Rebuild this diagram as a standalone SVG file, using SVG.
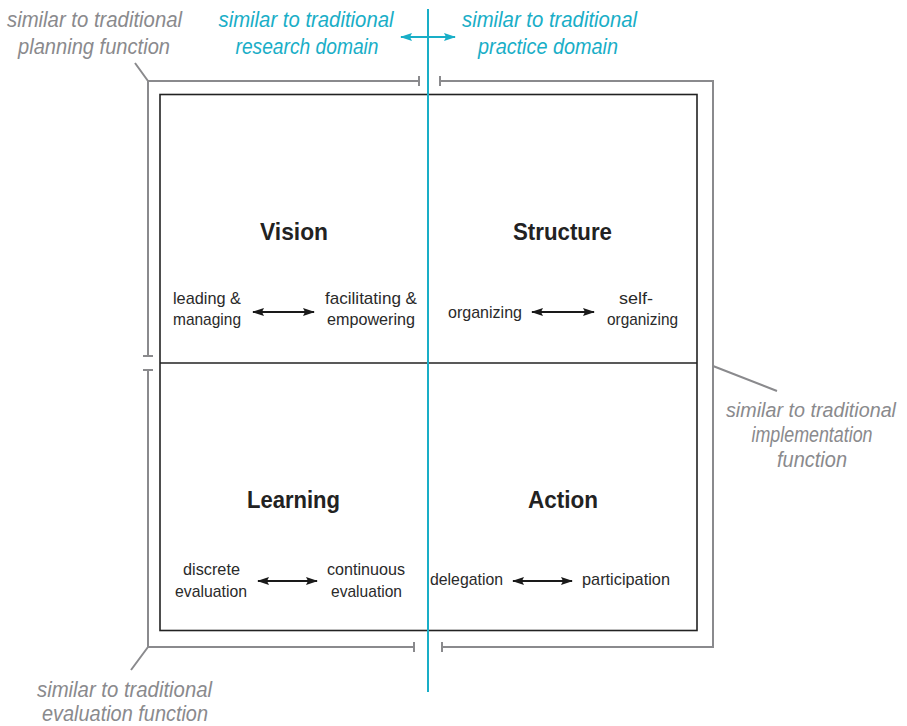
<svg xmlns="http://www.w3.org/2000/svg" width="907" height="726" viewBox="0 0 907 726">
<style>
.note{font-family:"Liberation Sans",Arial,sans-serif;font-style:italic;font-size:21.5px;fill:#8a8a8d;text-anchor:middle}
.cyan{fill:#19aec7}
.title{font-family:"Liberation Sans",Arial,sans-serif;font-weight:bold;font-size:24px;fill:#222;text-anchor:middle}
.lbl{font-family:"Liberation Sans",Arial,sans-serif;font-size:17px;fill:#2a2a2a;text-anchor:middle}
.br{fill:none;stroke:#8a8a8d;stroke-width:2}
.arr{stroke:#1a1a1a;stroke-width:2;marker-start:url(#ab);marker-end:url(#ab)}
</style>
<defs>
<marker id="ab" viewBox="0 0 12 8" refX="11" refY="4" markerWidth="12" markerHeight="8" markerUnits="userSpaceOnUse" orient="auto-start-reverse"><path d="M0,0 L12,4 L0,8 L2,4 Z" fill="#1a1a1a"/></marker>
<marker id="ac" viewBox="0 0 12 8" refX="11" refY="4" markerWidth="12" markerHeight="8" markerUnits="userSpaceOnUse" orient="auto-start-reverse"><path d="M0,0 L12,4 L0,8 L2,4 Z" fill="#19aec7"/></marker>
</defs>
<rect width="907" height="726" fill="#fff"/>
<g id="brackets">
<path class="br" d="M419,81 H148 V356 M143,356 H153 M419,76 V86"/>
<path class="br" d="M143,370 H153 M148,370 V647 H414 M414,642 V652"/>
<path class="br" d="M440,76 V86 M440,81 H713 V647 H442 M442,642 V652"/>
<path class="br" d="M148,81 L135,63 M148,647 L131,670 M713,366 L777,391" stroke-width="1.5"/>
</g>
<g id="grid">
<rect x="160" y="94.5" width="537" height="536" fill="none" stroke="#222" stroke-width="1.6"/>
<line x1="160" y1="363" x2="697" y2="363" stroke="#222" stroke-width="1.6"/>
</g>
<g id="connectors">
<line x1="428" y1="9" x2="428" y2="692" stroke="#19aec7" stroke-width="2"/>
<line x1="401" y1="37" x2="455" y2="37" stroke="#19aec7" stroke-width="2" marker-start="url(#ac)" marker-end="url(#ac)"/>
<line class="arr" x1="253" y1="312" x2="314" y2="312"/>
<line class="arr" x1="532" y1="312" x2="594" y2="312"/>
<line class="arr" x1="258" y1="581" x2="317" y2="581"/>
<line class="arr" x1="513" y1="581" x2="572" y2="581"/>
</g>
<g id="note-planning">
<text class="note" x="94.5" y="27" textLength="175" lengthAdjust="spacingAndGlyphs">similar to traditional</text>
<text class="note" x="94" y="54" textLength="152" lengthAdjust="spacingAndGlyphs">planning function</text>
</g>
<g id="note-research">
<text class="note cyan" x="306" y="27" textLength="175" lengthAdjust="spacingAndGlyphs">similar to traditional</text>
<text class="note cyan" x="307" y="54" textLength="143" lengthAdjust="spacingAndGlyphs">research domain</text>
</g>
<g id="note-practice">
<text class="note cyan" x="549.5" y="27" textLength="175" lengthAdjust="spacingAndGlyphs">similar to traditional</text>
<text class="note cyan" x="548" y="54" textLength="140" lengthAdjust="spacingAndGlyphs">practice domain</text>
</g>
<g id="note-implementation">
<text class="note" x="811" y="417" style="font-size:20px" textLength="170" lengthAdjust="spacingAndGlyphs">similar to traditional</text>
<text class="note" x="812" y="442" textLength="121" lengthAdjust="spacingAndGlyphs">implementation</text>
<text class="note" x="812" y="467" textLength="70" lengthAdjust="spacingAndGlyphs">function</text>
</g>
<g id="note-evaluation">
<text class="note" x="124.5" y="697" textLength="175" lengthAdjust="spacingAndGlyphs">similar to traditional</text>
<text class="note" x="125" y="721" textLength="166" lengthAdjust="spacingAndGlyphs">evaluation function</text>
</g>
<g id="vision">
<text class="title" x="294" y="240" textLength="68" lengthAdjust="spacingAndGlyphs">Vision</text>
<text class="lbl" x="207" y="304" textLength="68" lengthAdjust="spacingAndGlyphs">leading &amp;</text>
<text class="lbl" x="207" y="325" textLength="68" lengthAdjust="spacingAndGlyphs">managing</text>
<text class="lbl" x="371" y="304" textLength="92" lengthAdjust="spacingAndGlyphs">facilitating &amp;</text>
<text class="lbl" x="371" y="325" textLength="88" lengthAdjust="spacingAndGlyphs">empowering</text>
</g>
<g id="structure">
<text class="title" x="562.5" y="240" textLength="99" lengthAdjust="spacingAndGlyphs">Structure</text>
<text class="lbl" x="485" y="318" textLength="74" lengthAdjust="spacingAndGlyphs">organizing</text>
<text class="lbl" x="636" y="304" textLength="34" lengthAdjust="spacingAndGlyphs">self-</text>
<text class="lbl" x="642.5" y="325" textLength="71" lengthAdjust="spacingAndGlyphs">organizing</text>
</g>
<g id="learning">
<text class="title" x="293.5" y="508" textLength="93" lengthAdjust="spacingAndGlyphs">Learning</text>
<text class="lbl" x="211.5" y="575" textLength="57" lengthAdjust="spacingAndGlyphs">discrete</text>
<text class="lbl" x="211" y="597" textLength="72" lengthAdjust="spacingAndGlyphs">evaluation</text>
<text class="lbl" x="366" y="575" textLength="78" lengthAdjust="spacingAndGlyphs">continuous</text>
<text class="lbl" x="366.5" y="597" textLength="71" lengthAdjust="spacingAndGlyphs">evaluation</text>
</g>
<g id="action">
<text class="title" x="563" y="508" textLength="70" lengthAdjust="spacingAndGlyphs">Action</text>
<text class="lbl" x="466.5" y="585" textLength="73" lengthAdjust="spacingAndGlyphs">delegation</text>
<text class="lbl" x="626" y="585" textLength="88" lengthAdjust="spacingAndGlyphs">participation</text>
</g>
</svg>
